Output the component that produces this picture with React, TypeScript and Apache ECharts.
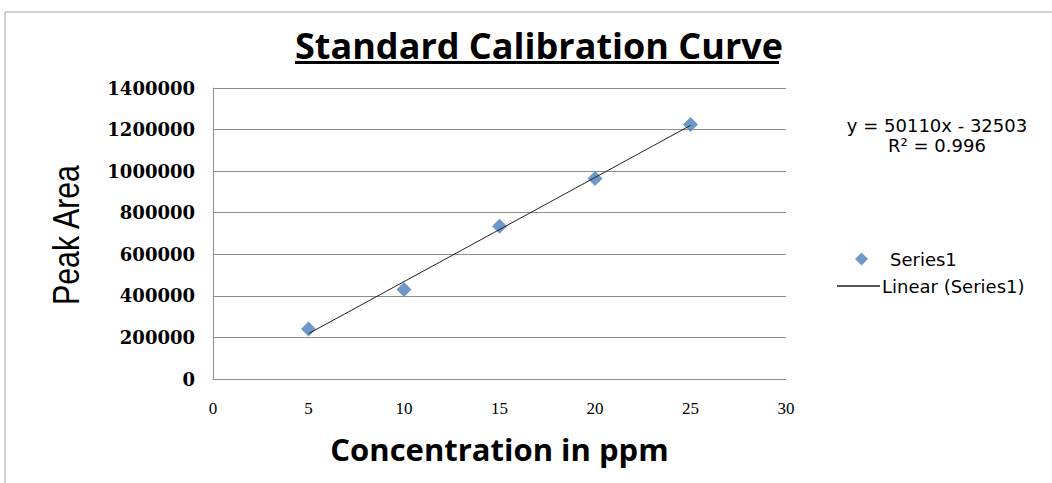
import React, { useEffect, useRef } from "react";
import * as echarts from "echarts";

const concentrations = [5, 10, 15, 20, 25];
const peakAreas = [240000, 430000, 735000, 965000, 1225000];
const equationText = "y = 50110x - 32503";
const r2Text = "R² = 0.996";
const seriesName = "Series1";
const trendName = "Linear (Series1)";

function linearFit(xs: number[], ys: number[]) {
  const n = xs.length;
  const mx = xs.reduce((a, b) => a + b, 0) / n;
  const my = ys.reduce((a, b) => a + b, 0) / n;
  let sxy = 0;
  let sxx = 0;
  for (let i = 0; i < n; i++) {
    sxy += (xs[i] - mx) * (ys[i] - my);
    sxx += (xs[i] - mx) * (xs[i] - mx);
  }
  const slope = sxy / sxx;
  return { slope, intercept: my - slope * mx };
}

export default function App() {
  const ref = useRef<HTMLDivElement>(null);
  useEffect(() => {
    document.body.style.margin = "0";
    if (!ref.current) return;
    const chart = echarts.init(ref.current, undefined, { renderer: "svg" });
    const fit = linearFit(concentrations, peakAreas);
    const xMin = concentrations[0];
    const xMax = concentrations[concentrations.length - 1];
    const trend = [
      [xMin, fit.slope * xMin + fit.intercept],
      [xMax, fit.slope * xMax + fit.intercept],
    ];
    chart.setOption({
      animation: false,
      backgroundColor: "#ffffff",
      title: {
        text: "Standard Calibration Curve",
        left: 534,
        top: 22,
        textAlign: "center",
        textStyle: {
          fontFamily: "Open Sans",
          fontWeight: "bold",
          fontSize: 36,
          color: "#000",
        },
      },
      grid: { left: 213, top: 88, right: 266, bottom: 104 },
      xAxis: {
        type: "value",
        min: 0,
        max: 30,
        interval: 5,
        name: "Concentration in ppm",
        nameLocation: "middle",
        nameGap: 54,
        nameTextStyle: {
          fontFamily: "Open Sans",
          fontWeight: "bold",
          fontSize: 31,
          color: "#000",
        },
        axisLine: { show: true, lineStyle: { color: "#8c8c8c", width: 1 } },
        axisTick: { show: false },
        splitLine: { show: false },
        axisLabel: {
          margin: 21,
          fontFamily: "Liberation Serif",
          fontSize: 17,
          color: "#000",
        },
      },
      yAxis: {
        type: "value",
        min: 0,
        max: 1400000,
        interval: 200000,
        axisLine: { show: true, lineStyle: { color: "#8c8c8c", width: 1 } },
        axisTick: { show: false },
        splitLine: { show: true, lineStyle: { color: "#8c8c8c", width: 1 } },
        axisLabel: {
          margin: 18,
          formatter: (v: number) => String(v),
          fontFamily: "DejaVu Serif",
          fontWeight: "bold",
          fontSize: 18,
          color: "#000",
        },
      },
      legend: [
        {
          data: [{ name: seriesName, icon: "diamond" }],
          left: 855,
          top: 250,
          padding: 0,
          itemWidth: 13,
          itemHeight: 13,
          textStyle: {
            fontFamily: "DejaVu Sans",
            fontSize: 18,
            color: "#000",
            padding: [0, 0, 0, 17],
          },
          selectedMode: false,
        },
        {
          data: [{ name: trendName, icon: "rect" }],
          left: 837,
          top: 277,
          padding: 0,
          itemWidth: 43,
          itemHeight: 1.5,
          textStyle: {
            fontFamily: "DejaVu Sans",
            fontSize: 18,
            color: "#000",
            padding: [0, 0, 0, -3],
          },
          selectedMode: false,
        },
      ],
      graphic: [
        {
          type: "line",
          shape: { x1: 5, y1: 12, x2: 1052, y2: 12 },
          style: { stroke: "#a6a6a6", lineWidth: 1 },
          silent: true,
        },
        {
          type: "line",
          shape: { x1: 5, y1: 12, x2: 5, y2: 483 },
          style: { stroke: "#a6a6a6", lineWidth: 1 },
          silent: true,
        },
        {
          type: "line",
          shape: { x1: 295, y1: 62.5, x2: 779, y2: 62.5 },
          style: { stroke: "#000", lineWidth: 3 },
          silent: true,
        },
        {
          type: "text",
          x: 66,
          y: 235,
          rotation: Math.PI / 2,
          scaleX: 0.82,
          style: {
            text: "Peak Area",
            fontFamily: "Liberation Sans",
            fontSize: 37,
            fill: "#000",
            align: "center",
            verticalAlign: "middle",
          },
        },
        {
          type: "text",
          x: 937,
          y: 125,
          style: {
            text: equationText,
            fontFamily: "DejaVu Sans",
            fontSize: 18,
            fill: "#000",
            align: "center",
            verticalAlign: "middle",
          },
        },
        {
          type: "text",
          x: 937,
          y: 145,
          style: {
            text: r2Text,
            fontFamily: "DejaVu Sans",
            fontSize: 18,
            fill: "#000",
            align: "center",
            verticalAlign: "middle",
          },
        },
      ],
      series: [
        {
          name: seriesName,
          type: "scatter",
          symbol: "diamond",
          symbolSize: 15,
          itemStyle: { color: "#4a7ebb" },
          data: concentrations.map((x, i) => [x, peakAreas[i]]),
          z: 3,
        },
        {
          name: trendName,
          type: "line",
          data: trend,
          showSymbol: false,
          symbol: "none",
          lineStyle: { color: "#222", width: 1 },
          itemStyle: { color: "#222" },
          z: 4,
        },
      ],
    });
    return () => chart.dispose();
  }, []);
  return <div ref={ref} style={{ width: 1052, height: 483 }} />;
}
